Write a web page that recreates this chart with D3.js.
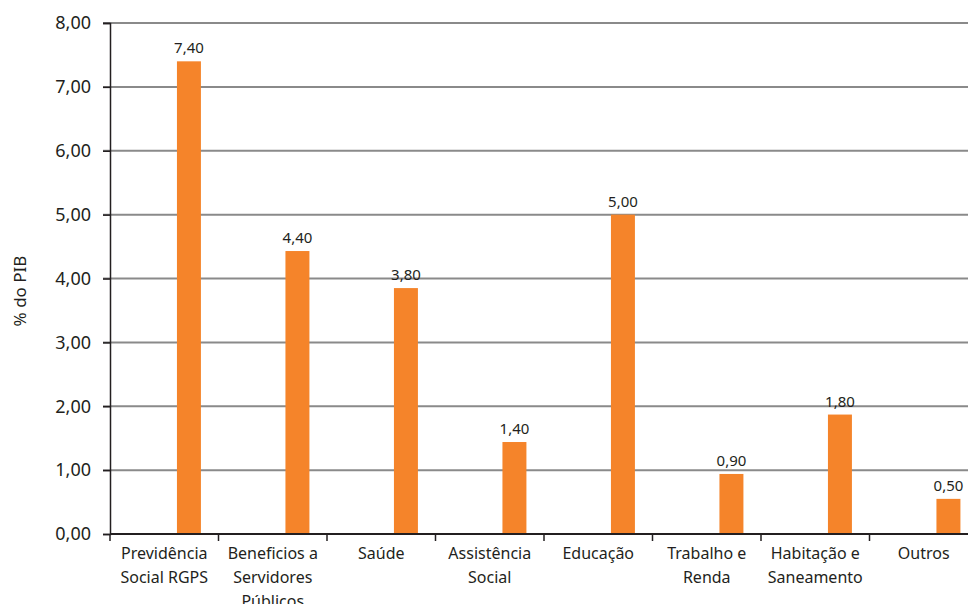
<!DOCTYPE html>
<html>
<head>
<meta charset="utf-8">
<script src="https://cdn.jsdelivr.net/npm/d3@7"></script>
<style>
  body { margin: 0; background: #fff; }
  text { font-family: "Noto Sans", "Open Sans", sans-serif; fill: #231f20; }
</style>
</head>
<body>
<svg id="chart" width="968" height="604"></svg>
<script>
// dados do gráfico
var categorias = [
  ["Previdência", "Social RGPS"],
  ["Beneficios a", "Servidores", "Públicos"],
  ["Saúde"],
  ["Assistência", "Social"],
  ["Educação"],
  ["Trabalho e", "Renda"],
  ["Habitação e", "Saneamento"],
  ["Outros"]
];
// altura das barras (levemente acima dos rótulos)
var valores = [7.40, 4.43, 3.85, 1.44, 5.00, 0.94, 1.87, 0.55];
var rotulos = ["7,40", "4,40", "3,80", "1,40", "5,00", "0,90", "1,80", "0,50"];
var yTicks = [0, 1, 2, 3, 4, 5, 6, 7, 8];
var yTitulo = "% do PIB";

var svg = d3.select("#chart");
var margin = {left: 110, top: 23, right: -10, bottom: 70};
var width = 968 - margin.left - margin.right;
var height = 604 - margin.top - margin.bottom;

var g = svg.append("g")
    .attr("transform", "translate(" + margin.left + "," + margin.top + ")");

var fmt = function(v) { return d3.format(".2f")(v).replace(".", ","); };

var x = d3.scaleBand()
    .domain(d3.range(categorias.length))
    .range([0, width]);

var y = d3.scaleLinear()
    .domain([0, 8])
    .range([height, 0]);

// grade horizontal
g.selectAll(".grid")
    .data(yTicks.filter(function(d) { return d > 0; }))
    .enter()
    .append("line")
    .attr("x1", -7)
    .attr("x2", width)
    .attr("y1", function(d) { return y(d); })
    .attr("y2", function(d) { return y(d); })
    .attr("stroke", "#8a8a8a")
    .attr("stroke-width", 2);

// eixo y
var yAxis = g.append("g")
    .call(d3.axisLeft(y).tickValues(yTicks).tickFormat(fmt).tickSize(7).tickPadding(12));
yAxis.select(".domain").attr("stroke", "#231f20").attr("stroke-width", 1.5);
yAxis.selectAll(".tick line").attr("stroke", "#231f20").attr("stroke-width", 1.5);
yAxis.selectAll(".tick text")
    .attr("font-size", 18)
    .attr("fill", "#231f20")
    .style("font-family", "\"Noto Sans\", sans-serif");

// barras
var barW = x.bandwidth() * 0.221;
var barOff = x.bandwidth() * 0.617;

g.selectAll(".bar")
    .data(valores)
    .enter()
    .append("rect")
    .attr("class", "bar")
    .attr("x", function(d, i) { return x(i) + barOff; })
    .attr("y", function(d) { return y(d); })
    .attr("width", barW)
    .attr("height", function(d) { return height - y(d); })
    .attr("fill", "#f5842a");

// rótulos dos valores
g.selectAll(".valor")
    .data(valores)
    .enter()
    .append("text")
    .attr("x", function(d, i) { return x(i) + barOff + barW / 2; })
    .attr("y", function(d) { return y(d) - 8; })
    .attr("text-anchor", "middle")
    .attr("font-size", 15)
    .text(function(d, i) { return rotulos[i]; });

// eixo x
var xAxis = g.append("g")
    .attr("transform", "translate(0," + height + ")");
xAxis.append("line")
    .attr("x1", 0)
    .attr("x2", width)
    .attr("stroke", "#231f20")
    .attr("stroke-width", 2);
xAxis.selectAll(".xtick")
    .data(d3.range(categorias.length + 1))
    .enter()
    .append("line")
    .attr("x1", function(i) { return i < categorias.length ? x(i) : width; })
    .attr("x2", function(i) { return i < categorias.length ? x(i) : width; })
    .attr("y1", 0)
    .attr("y2", 7)
    .attr("stroke", "#231f20")
    .attr("stroke-width", 1.5);

var labels = xAxis.selectAll(".cat")
    .data(categorias)
    .enter()
    .append("text")
    .attr("text-anchor", "middle")
    .attr("font-size", 16)
    .attr("transform", function(d, i) {
        return "translate(" + (x(i) + x.bandwidth() / 2) + ",25)";
    });
labels.selectAll("tspan")
    .data(function(d) { return d; })
    .enter()
    .append("tspan")
    .attr("x", 0)
    .attr("dy", function(d, j) { return j === 0 ? 0 : 24; })
    .text(function(d) { return d; });

// título do eixo y
svg.append("text")
    .attr("transform", "translate(26,291) rotate(-90)")
    .attr("text-anchor", "middle")
    .attr("font-size", 17)
    .text(yTitulo);
</script>
</body>
</html>
